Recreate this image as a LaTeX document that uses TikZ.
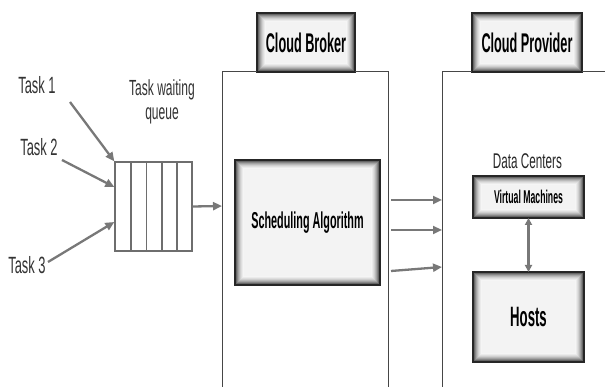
\documentclass[tikz,border=0pt]{standalone}
\usepackage{fontspec}
\setmainfont[FakeStretch=0.55, BoldFeatures={FakeStretch=0.47}]{Liberation Sans}
\usepackage{tikz}
\usetikzlibrary{calc}
\usetikzlibrary{arrows.meta}
\usetikzlibrary{positioning}
\definecolor{framegray}{RGB}{70, 70, 70}
\definecolor{arrowgray}{RGB}{120, 120, 120}
\definecolor{queuegray}{RGB}{110, 110, 110}
\definecolor{boxcore}{RGB}{243, 243, 243}

\tikzset{
  bevelbox/.style={draw=black!85, line width=1.5pt, fill=boxcore, inner sep=0pt, outer sep=0pt,
    path picture={
      \foreach \k/\c in {0.6/75, 1.6/60, 2.6/47, 3.6/36, 4.6/27, 5.6/19, 6.6/13, 7.6/8, 8.6/4}
        \draw[black!\c, line width=1.1pt]
          ([shift={(\k pt,-\k pt)}]path picture bounding box.north west) rectangle
          ([shift={(-\k pt,\k pt)}]path picture bounding box.south east);
    }},
  tasklbl/.style={font=\fontsize{23.5}{25}\selectfont, text=black!80, inner sep=0pt},
  feed/.style={draw=arrowgray, line width=2.3pt, -{Triangle[length=9pt, width=8pt]}},
  link/.style={draw=arrowgray, line width=2.3pt, {Triangle[length=7pt, width=7pt]}-{Triangle[length=7pt, width=7pt]}},
  frame/.style={draw=framegray, line width=1pt}
}

\begin{document}
\begin{tikzpicture}[x=1pt, y=-1pt]
            \useasboundingbox (0,0) rectangle (605,387);
            % header boxes
            \node[bevelbox, minimum width=98pt,  minimum height=59pt, font=\bfseries\fontsize{27}{29}\selectfont] (broker)   at (306.0, 42.5) {Cloud Broker};
            \node[bevelbox, minimum width=110pt, minimum height=59pt, font=\bfseries\fontsize{27}{29}\selectfont] (provider) at (527.0, 42.5) {Cloud Provider};
            \draw[frame] (broker.south west)   -| (222, 387);
            \draw[frame] (broker.south east)   -| (388, 387);
            \draw[frame] (provider.south west) -| (442, 387);
            \draw[frame] (provider.south east) -- (605, 72);
            % broker and provider contents
            \node[bevelbox, minimum width=145pt, minimum height=125pt, font=\bfseries\fontsize{23}{25}\selectfont] (sched) at (307.5, 222.5) {Scheduling Algorithm};
            \node[font=\fontsize{21.3}{23}\selectfont, inner sep=0pt, text=black!85] (dc) at (527.5, 161) {Data Centers};
            \node[bevelbox, minimum width=111pt, minimum height=42pt, font=\bfseries\fontsize{18.5}{20}\selectfont] (vm)    at (528.5, 197) {Virtual Machines};
            \node[bevelbox, minimum width=111pt, minimum height=90pt, font=\bfseries\fontsize{28}{30}\selectfont] (hosts) at (528.5, 317) {Hosts};
            \draw[link] (vm.south) -- (hosts.north);
            % waiting queue
            \node[draw=queuegray, line width=1.3pt, minimum width=77pt, minimum height=89pt, inner sep=0pt] (queue) at (153.5, 206.5) {};
            \foreach \xq in {131, 146.5, 162, 177}
                \draw[queuegray, line width=1.2pt] (\xq, 162) -- (\xq, 251);
            \node[font=\fontsize{21.9}{24}\selectfont, align=center, text=black!80] (qlbl) at (162, 102) {Task waiting\\queue};
            % tasks
            \node[tasklbl] (t1) at (37, 85)  {Task 1};
            \node[tasklbl] (t2) at (39, 147) {Task 2};
            \node[tasklbl] (t3) at (27, 265) {Task 3};
            \coordinate (t1s) at (70, 102);
            \coordinate (t2s) at (62, 160);
            \coordinate (t3s) at (48, 262);
            \draw[feed] (t1s) -- (queue.north west);
            \draw[feed] (t2s) -- ([yshift=19.5pt]queue.west);
            \draw[feed] (t3s) -- ([yshift=-15.5pt]queue.west);
            \coordinate (bin) at (222, 206);
            \draw[feed] (queue.east) -- (bin);
            % broker to provider
            \foreach \ya/\yb [count=\i] in {200/200, 230/230, 271/267}{
                \coordinate (out\i) at (391, \ya);
                \coordinate (in\i)  at (442, \yb);
                \draw[feed] (out\i) -- (in\i);
            }
        \end{tikzpicture}
\end{document}
